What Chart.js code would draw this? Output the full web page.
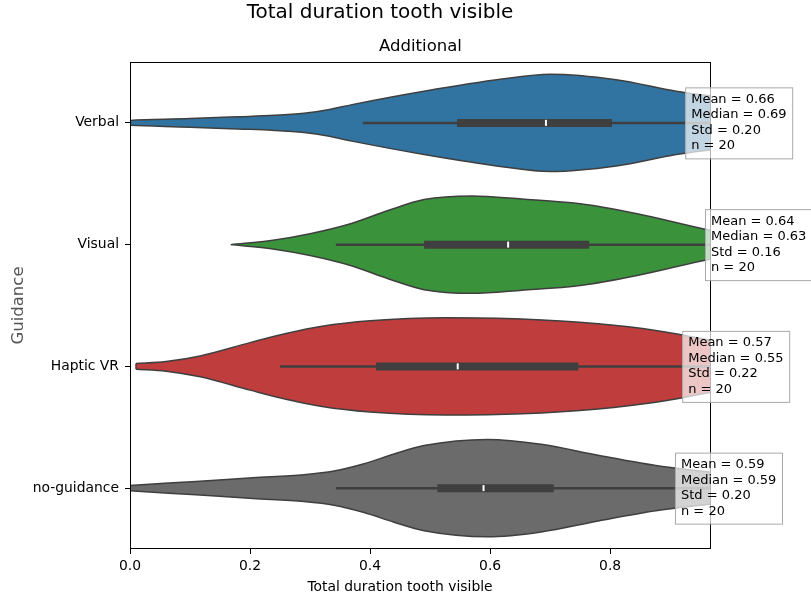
<!DOCTYPE html>
<html>
<head>
<meta charset="utf-8">
<script src="https://cdn.jsdelivr.net/npm/chart.js@4.4.0/dist/chart.umd.min.js"></script>
<style>
  html, body { margin: 0; padding: 0; background: #fff; }
</style>
</head>
<body>
<canvas id="violinChart" width="811" height="598"></canvas>
<script>
// categories and colours
const groups = ['Verbal', 'Visual', 'Haptic VR', 'no-guidance'];
const groupColors = ['#3274a1', '#3a923a', '#c03d3e', '#6b6b6b'];

// violin outlines: x positions and half-widths (category units)
const verbalX   = [-0.02, 0.0, 0.10, 0.18, 0.24, 0.29, 0.33, 0.37, 0.49, 0.62, 0.70, 0.81, 0.91, 0.968, 1.0];
const verbalW   = [0.015, 0.02, 0.035, 0.05, 0.062, 0.08, 0.108, 0.15, 0.26, 0.36, 0.40, 0.355, 0.26, 0.22, 0.20];
const visualX   = [0.168, 0.238, 0.30, 0.366, 0.43, 0.49, 0.57, 0.653, 0.75, 0.845, 0.968, 1.0];
const visualW   = [0.0, 0.036, 0.09, 0.17, 0.28, 0.37, 0.40, 0.375, 0.336, 0.254, 0.117, 0.09];
const hapticX   = [0.01, 0.06, 0.117, 0.2, 0.26, 0.32, 0.40, 0.525, 0.653, 0.78, 0.876, 0.968, 1.0];
const hapticW   = [0.023, 0.04, 0.086, 0.195, 0.27, 0.33, 0.375, 0.40, 0.39, 0.35, 0.295, 0.213, 0.18];
const noGuideX  = [-0.02, 0.0, 0.11, 0.205, 0.29, 0.34, 0.39, 0.44, 0.49, 0.596, 0.685, 0.78, 0.876, 0.968, 1.0];
const noGuideW  = [0.015, 0.022, 0.055, 0.085, 0.11, 0.14, 0.2, 0.28, 0.35, 0.40, 0.36, 0.27, 0.186, 0.13, 0.11];
const violinX = [verbalX, visualX, hapticX, noGuideX];
const violinW = [verbalW, visualW, hapticW, noGuideW];

// inner box plots
const whiskerLo = [0.388, 0.343, 0.25, 0.343];
const whiskerHi = [1.0, 1.0, 1.0, 1.0];
const q1 = [0.545, 0.49, 0.41, 0.512];
const q3 = [0.803, 0.765, 0.747, 0.706];
const medians = [0.693, 0.63, 0.546, 0.589];

// stats text boxes
const statLines = [
    ['Mean = 0.66', 'Median = 0.69', 'Std = 0.20', 'n = 20'],
    ['Mean = 0.64', 'Median = 0.63', 'Std = 0.16', 'n = 20'],
    ['Mean = 0.57', 'Median = 0.55', 'Std = 0.22', 'n = 20'],
    ['Mean = 0.59', 'Median = 0.59', 'Std = 0.20', 'n = 20']
];
const statTextX = [0.935, 0.968, 0.93, 0.918];

const xTicks = [0, 0.2, 0.4, 0.6, 0.8];
const FONT = "'DejaVu Sans', sans-serif";
const EDGE = '#3f3f3f';

const datasets = [];
groups.forEach((g, i) => {
    const xs = violinX[i], ws = violinW[i];
    datasets.push({
        data: xs.map((xv, k) => ({ x: xv, y: i - ws[k] })),
        borderColor: EDGE, borderWidth: 1.5, pointRadius: 0, fill: false,
        cubicInterpolationMode: 'monotone', order: 10
    });
    datasets.push({
        data: xs.map((xv, k) => ({ x: xv, y: i + ws[k] })),
        borderColor: EDGE, borderWidth: 1.5, pointRadius: 0,
        fill: '-1', backgroundColor: groupColors[i],
        cubicInterpolationMode: 'monotone', order: 10
    });
    // closing edge at the left end of the violin
    datasets.push({
        data: [{ x: xs[0], y: i - ws[0] }, { x: xs[0], y: i + ws[0] }],
        borderColor: EDGE, borderWidth: 1.5, pointRadius: 0, fill: false, order: 9
    });
});
groups.forEach((g, i) => {
    datasets.push({
        data: [{ x: whiskerLo[i], y: i }, { x: whiskerHi[i], y: i }],
        borderColor: EDGE, borderWidth: 2.5, pointRadius: 0, fill: false, order: 3
    });
    datasets.push({
        data: [{ x: q1[i], y: i }, { x: q3[i], y: i }],
        borderColor: EDGE, borderWidth: 8, borderCapStyle: 'butt', pointRadius: 0, fill: false, order: 2
    });
    datasets.push({
        data: [{ x: medians[i], y: i }],
        showLine: false, pointStyle: 'line', rotation: 90, pointRadius: 3,
        pointBorderColor: '#ffffff', pointBorderWidth: 2, order: 1
    });
});

// frame, stats boxes and titles
const decorPlugin = {
    id: 'decor',
    afterDraw(chart) {
        const { ctx, chartArea: a, scales: { x, y } } = chart;
        ctx.save();
        ctx.strokeStyle = '#000';
        ctx.lineWidth = 1;
        ctx.strokeRect(a.left + 0.5, a.top + 0.5, a.right - a.left - 1, a.bottom - a.top - 1);

        ctx.font = '13px ' + FONT;
        ctx.textBaseline = 'middle';
        ctx.textAlign = 'left';
        groups.forEach((g, i) => {
            const tx = x.getPixelForValue(statTextX[i]);
            const cy = y.getPixelForValue(i);
            ctx.fillStyle = 'rgba(255,255,255,0.7)';
            ctx.fillRect(tx - 6, cy - 35.5, 107, 71);
            ctx.strokeStyle = '#a9a9a9';
            ctx.strokeRect(tx - 6 + 0.5, cy - 35.5 + 0.5, 107, 71);
            ctx.fillStyle = '#000';
            statLines[i].forEach((t, k) => ctx.fillText(t, tx, cy - 23.3 + k * 15.5));
        });

        ctx.textAlign = 'center';
        ctx.fillStyle = '#000';
        ctx.font = '20px ' + FONT;
        ctx.fillText('Total duration tooth visible', 380, 13);
        ctx.font = '16.5px ' + FONT;
        ctx.fillText('Additional', (a.left + a.right) / 2, 47);
        ctx.font = '13.9px ' + FONT;
        ctx.fillText('Total duration tooth visible', 400, 587);

        ctx.translate(19, (a.top + a.bottom) / 2);
        ctx.rotate(-Math.PI / 2);
        ctx.fillStyle = '#555';
        ctx.font = '16.5px ' + FONT;
        ctx.fillText('Guidance', 0, 0);
        ctx.restore();
    }
};

new Chart(document.getElementById('violinChart'), {
    type: 'line',
    data: { datasets },
    options: {
        responsive: false, animation: false,
        layout: { padding: { top: 62, right: 100, bottom: 0, left: 0 } },
        plugins: { legend: { display: false }, tooltip: { enabled: false } },
        scales: {
            x: {
                type: 'linear', min: 0, max: 0.968,
                afterBuildTicks: s => { s.ticks = xTicks.map(v => ({ value: v })); },
                afterFit: s => { s.height = 49; },
                grid: { drawOnChartArea: false, tickLength: 5, tickColor: '#000' },
                border: { display: false },
                ticks: { color: '#000', font: { family: FONT, size: 13.9 }, padding: 4, maxRotation: 0,
                         callback: v => v.toFixed(1) }
            },
            y: {
                type: 'linear', min: -0.5, max: 3.5, reverse: true,
                afterBuildTicks: s => { s.ticks = groups.map((g, i) => ({ value: i })); },
                afterFit: s => { s.width = 130; },
                grid: { drawOnChartArea: false, tickLength: 5, tickColor: '#000' },
                border: { display: false },
                ticks: { color: '#000', font: { family: FONT, size: 13.9 }, padding: 6,
                         callback: v => groups[v] }
            }
        }
    },
    plugins: [decorPlugin]
});
</script>
</body>
</html>
